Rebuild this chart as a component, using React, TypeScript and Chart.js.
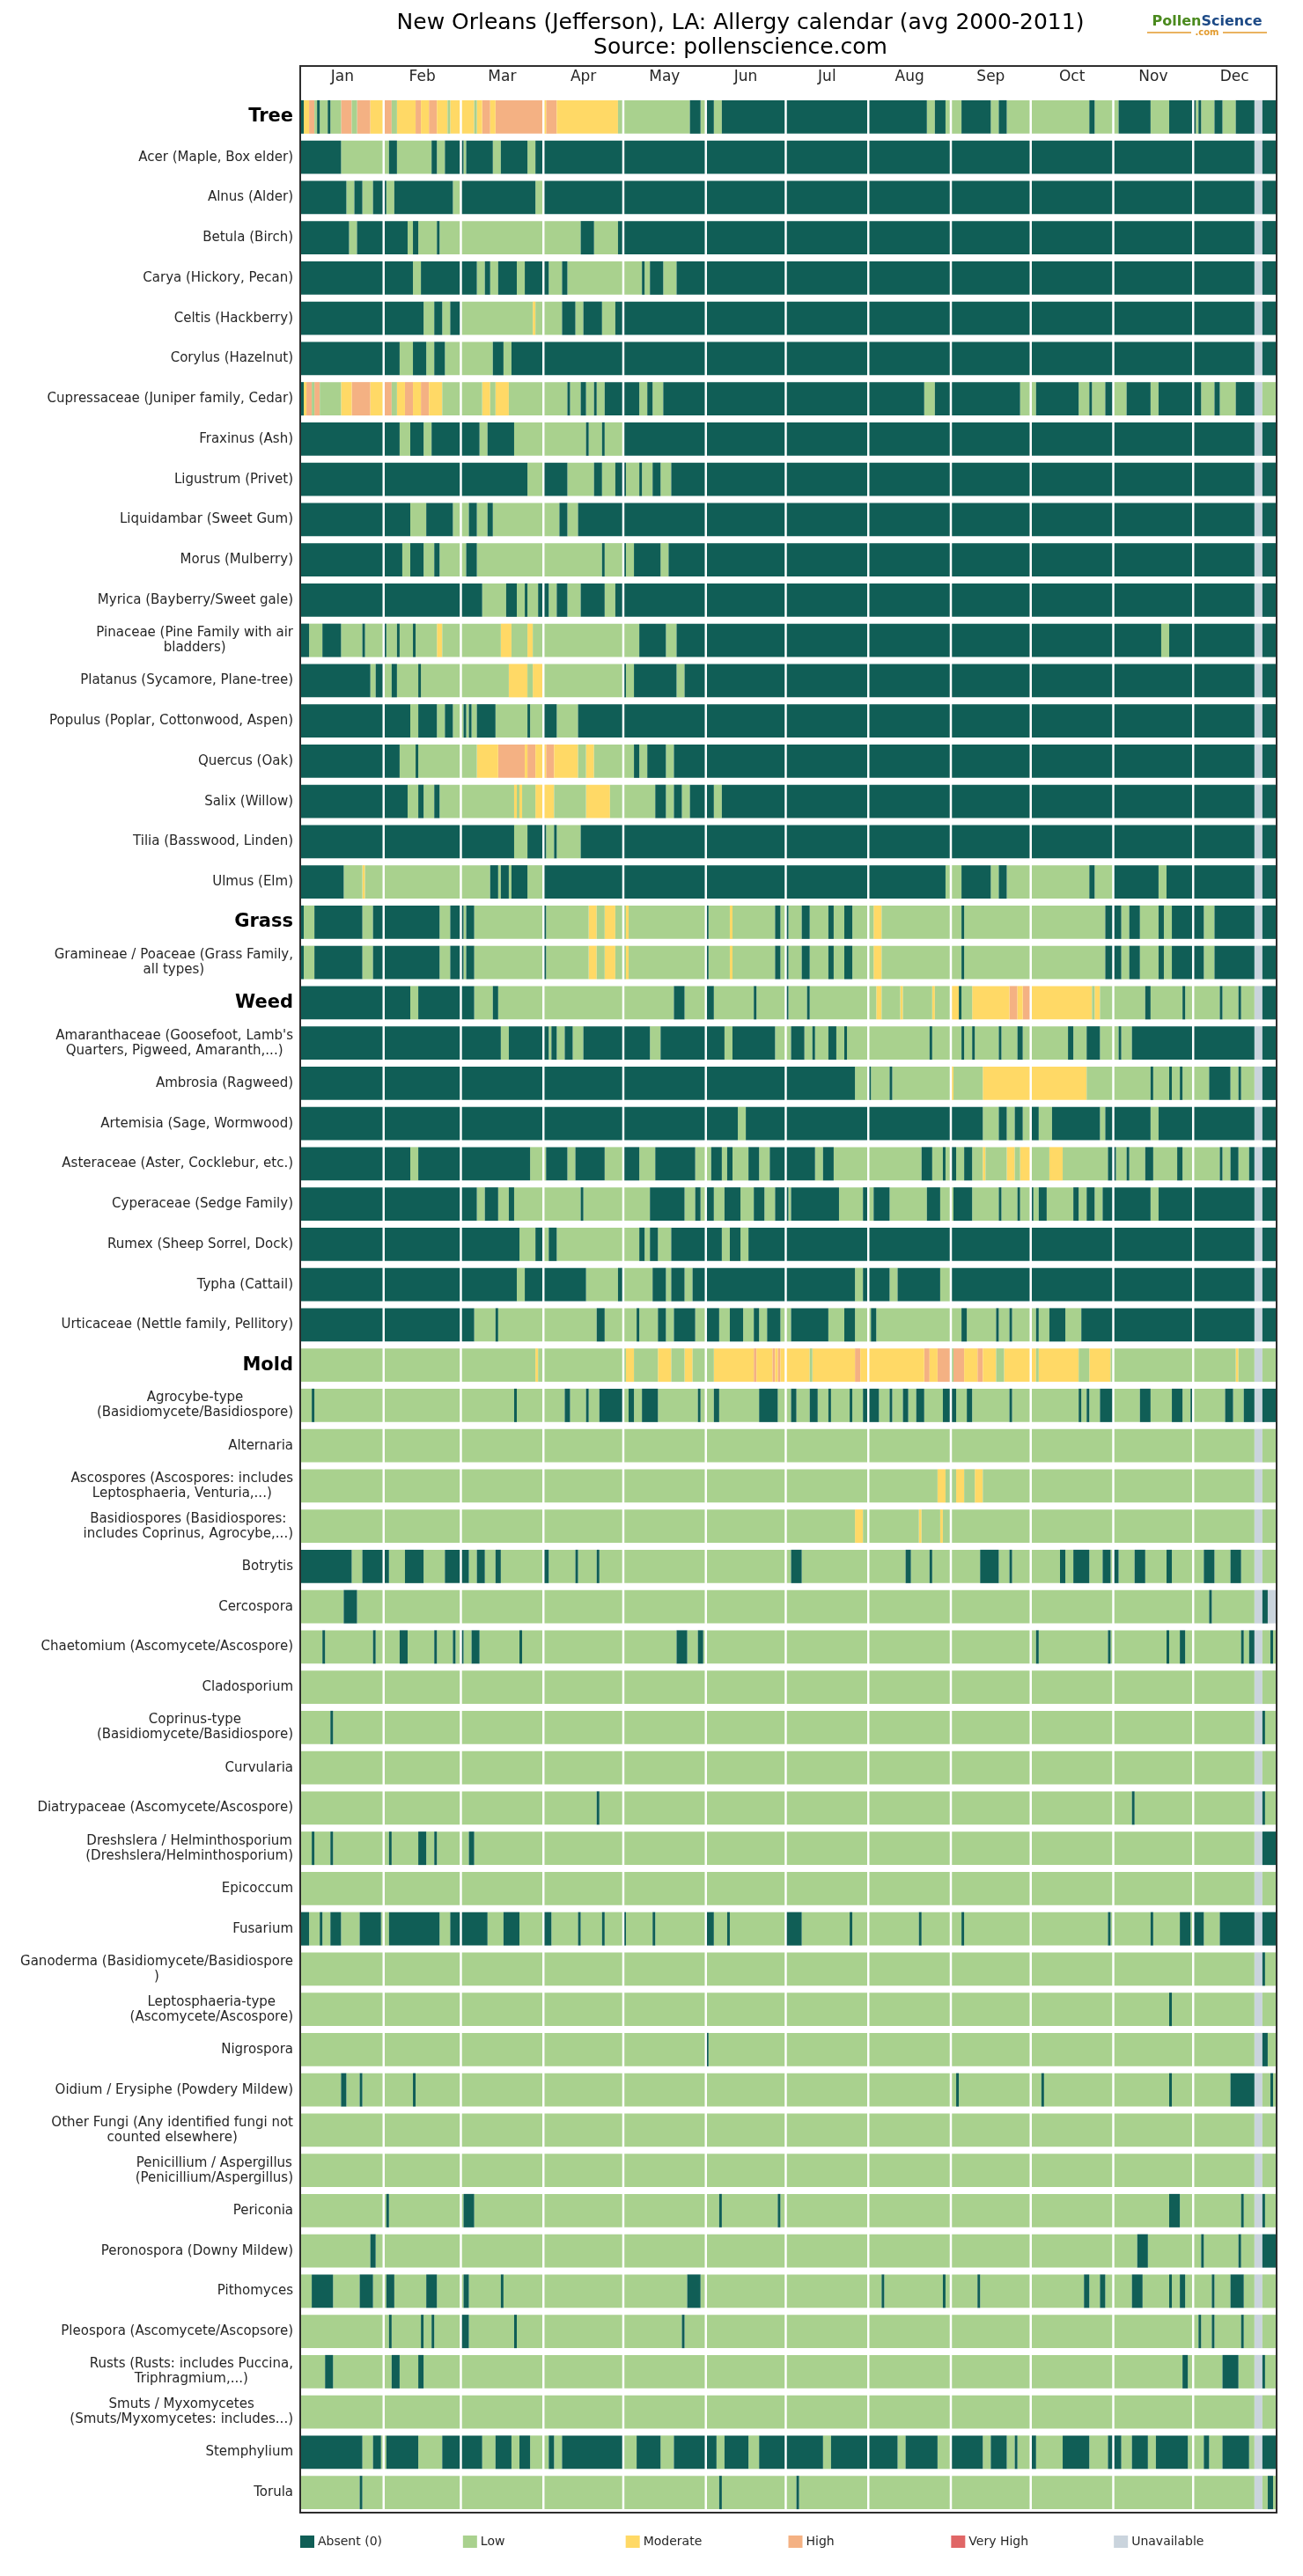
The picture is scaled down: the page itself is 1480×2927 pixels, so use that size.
import React, { useEffect, useRef } from 'react';
import { Chart, registerables } from 'chart.js';

Chart.register(...registerables);

const CANVAS_W = 1480;
const CANVAS_H = 2927;
const DAYS = 366;

const months = ['Jan', 'Feb', 'Mar', 'Apr', 'May', 'Jun', 'Jul', 'Aug', 'Sep', 'Oct', 'Nov', 'Dec'];
const monthStarts = [0, 31, 60, 91, 121, 152, 182, 213, 244, 274, 305, 335, 366];

// level codes used in the run strings: a = absent, l = low, m = moderate, h = high, v = very high, u = unavailable
const levelCodes = ['a', 'l', 'm', 'h', 'v', 'u'];
const levelNames = ['Absent (0)', 'Low', 'Moderate', 'High', 'Very High', 'Unavailable'];
const levelColors = ['#105e56', '#a9d18e', '#ffd966', '#f4b183', '#e06666', '#cad4dd'];

// Each run string lists "<level><first day of run>" (day 0 = Jan 1); a run lasts until the next one starts.
const groupHeaders = ['Tree', 'Grass', 'Weed', 'Mold'];

const treeLabels = [
  'Tree',
  'Acer (Maple, Box elder)',
  'Alnus (Alder)',
  'Betula (Birch)',
  'Carya (Hickory, Pecan)',
  'Celtis (Hackberry)',
  'Corylus (Hazelnut)',
  'Cupressaceae (Juniper family, Cedar)',
  'Fraxinus (Ash)',
  'Ligustrum (Privet)',
  'Liquidambar (Sweet Gum)',
  'Morus (Mulberry)',
  'Myrica (Bayberry/Sweet gale)',
  'Pinaceae (Pine Family with air\nbladders)',
  'Platanus (Sycamore, Plane-tree)',
  'Populus (Poplar, Cottonwood, Aspen)',
  'Quercus (Oak)',
  'Salix (Willow)',
  'Tilia (Basswood, Linden)',
  'Ulmus (Elm)',
];
const treeRuns = [
  'a0 m1 h3 l5 a6 l7 a10 l11 h15 l19 h21 m26 h31 l34 m36 h43 m45 h48 m51 l55 m56 l65 m66 h68 m71 h73 m91 h92 m96 l119 a146 l150 a152 l155 a158 l235 a238 l242 a248 l259 a262 l265 a296 l298 a307 l319 a326 l336 a337 l338 a343 l346 a351 u358 a361',
  'a0 l15 a33 l36 a49 l51 a54 l61 a62 l72 a75 l85 a88 u358 a361',
  'a0 l17 a20 l23 a27 l32 a35 l57 a60 l88 a91 u358 a361',
  'a0 l18 a21 l40 a42 l44 a51 l52 a105 l110 a119 u358 a361',
  'a0 l42 a45 l66 a69 l71 a74 l81 a84 l93 a98 l100 a128 l129 a131 l136 a141 u358 a361',
  'a0 l46 a50 l53 a56 l60 m87 l88 a98 l103 a106 l113 a118 u358 a361',
  'a0 l37 a42 l47 a50 l54 a72 l76 a79 u358 a361',
  'a0 m1 h2 l4 h5 l7 m15 h19 m26 h31 l34 m36 h39 m42 h45 m48 l53 m68 l71 m73 l78 a100 l101 a105 l107 a110 l111 a114 l127 a130 l132 a136 l234 a238 l270 a276 l292 a296 l297 a302 l305 a310 l319 a322 l338 a343 l345 a351 u358 l361',
  'a0 l37 a41 l46 a49 l67 a70 l80 a107 l108 a113 l114 a121 u358 a361',
  'a0 l85 a91 l100 a110 l113 a118 l122 a127 l128 a132 l135 a139 u358 a361',
  'a0 l41 a47 l57 a63 l66 a70 l72 a97 l100 a104 u358 a361',
  'a0 l38 a41 l46 a50 l52 a62 l66 a113 l114 a121 l122 a125 l135 a138 u358 a361',
  'a0 l68 a77 l81 a84 l85 a89 l93 a96 l100 a105 l114 a118 u358 a361',
  'a0 l3 a8 l15 a23 l24 a31 l32 a36 l37 a42 l43 m51 l53 m75 l79 m85 l87 a127 l137 a141 l323 a326 u358 a361',
  'a0 l26 a28 l31 a34 l36 a44 l45 m78 l85 m87 l91 a121 l122 a125 l141 a144 u358 a361',
  'a0 l41 a44 l51 a54 l57 a61 l62 a63 l64 a66 l73 a85 l86 a91 l96 a104 u358 a361',
  'a0 l37 a43 l44 m66 h74 m84 h85 m88 h92 m95 l104 m107 l110 a125 l127 a130 l137 a140 u358 a361',
  'a0 l40 a44 l46 a50 l52 m80 l81 m82 l83 m88 l95 m107 l116 a133 l137 a140 l143 a146 l155 a158 u358 a361',
  'a0 l80 a85 l92 a95 l96 a105 u358 a361',
  'a0 l16 m23 l24 a71 l74 a75 l78 a79 l85 a91 l242 a248 l259 a262 l265 a296 l298 a305 l322 a325 u358 a361',
];

const grassLabels = ['Grass', 'Gramineae / Poaceae (Grass Family,\nall types)'];
const grassRuns = [
  'a0 l1 a5 l23 a27 l52 a56 l61 a62 l65 a91 l92 m108 l111 m114 l118 m122 l123 a152 l153 m161 l162 a178 l180 a182 l183 a188 l191 a198 l200 a204 l207 m215 l218 a248 l249 a302 l308 a311 l315 a322 l324 a327 l339 a343 u358 a361',
  'a0 l1 a5 l23 a27 l52 a56 l61 a62 l65 a91 l92 m108 l111 m114 l118 m122 l123 a152 l153 m161 l162 a178 l180 a182 l183 a188 l191 a198 l200 a204 l207 m215 l218 a248 l249 a302 l308 a311 l315 a322 l324 a327 l339 a343 u358 a361',
];

const weedLabels = [
  'Weed',
  "Amaranthaceae (Goosefoot, Lamb's\nQuarters, Pigweed, Amaranth,...)",
  'Ambrosia (Ragweed)',
  'Artemisia (Sage, Wormwood)',
  'Asteraceae (Aster, Cocklebur, etc.)',
  'Cyperaceae (Sedge Family)',
  'Rumex (Sheep Sorrel, Dock)',
  'Typha (Cattail)',
  'Urticaceae (Nettle family, Pellitory)',
];
const weedRuns = [
  'a0 l41 a44 l65 a72 l74 a140 l144 a152 l155 a170 l171 a182 l183 a190 l191 m216 l218 m225 l226 m237 l238 m244 a247 l248 m252 h266 m269 h271 m274 l297 m298 l300 a317 l319 a331 l332 a345 l346 a352 l353 u358 a361',
  'a0 l75 a78 l93 a94 l96 a99 l102 a106 l131 a135 l159 a162 l178 a184 l189 a192 l193 a198 l201 a204 l205 a236 l237 a248 l249 a252 l253 a262 l263 a269 l271 a288 l290 a295 l300 a307 l308 a312 u358 a361',
  'a0 l208 a213 l214 a221 l222 m244 l245 m256 l295 a319 l320 a326 l327 a330 l331 a341 l349 a352 l353 u358 a361',
  'a0 l164 a167 l256 a262 l265 a268 l271 a274 l277 a282 l300 a302 l319 a322 u358 a361',
  'a0 l41 a44 l86 a92 l100 a103 l114 a121 l127 a133 l148 a154 l158 a160 l162 a168 l172 a176 l193 a196 l200 a233 l237 a241 l242 a244 l246 a249 l252 m256 l257 m265 l268 m270 l274 m281 l286 a303 l306 a310 l311 a317 l320 a329 l331 a345 l346 a349 l352 a356 u358 a361',
  'a0 l66 a69 l74 a78 l80 a105 l106 a131 l144 a148 l150 a152 l155 a159 l165 a170 l174 a178 l183 a184 l202 a211 l213 a215 l221 a235 l240 a245 l252 a262 l263 a269 l270 a274 l275 a277 l280 a290 l292 a295 l298 a301 l319 a322 u358 a361',
  'a0 l82 a88 l91 a93 l96 a127 l129 a131 l134 a139 l158 a161 l165 a168 u358 a361',
  'a0 l81 a84 l107 a119 l121 a132 l137 a139 l144 a147 l208 a211 l221 a224 l240 a244 u358 a361',
  'a0 l65 a73 l74 a111 l114 a126 l127 a134 l137 a140 l148 a152 l157 a161 l166 a170 l172 a175 l180 a184 l198 a204 l208 a214 l216 a248 l250 a261 l262 a266 l267 a276 l277 a281 l287 a293 u358 a361',
];

const moldLabels = [
  'Mold',
  'Agrocybe-type\n(Basidiomycete/Basidiospore)',
  'Alternaria',
  'Ascospores (Ascospores: includes\nLeptosphaeria, Venturia,...)',
  'Basidiospores (Basidiospores:\nincludes Coprinus, Agrocybe,...)',
  'Botrytis',
  'Cercospora',
  'Chaetomium (Ascomycete/Ascospore)',
  'Cladosporium',
  'Coprinus-type\n(Basidiomycete/Basidiospore)',
  'Curvularia',
  'Diatrypaceae (Ascomycete/Ascospore)',
  'Dreshslera / Helminthosporium\n(Dreshslera/Helminthosporium)',
  'Epicoccum',
  'Fusarium',
  'Ganoderma (Basidiomycete/Basidiospore\n)',
  'Leptosphaeria-type\n(Ascomycete/Ascospore)',
  'Nigrospora',
  'Oidium / Erysiphe (Powdery Mildew)',
  'Other Fungi (Any identified fungi not\ncounted elsewhere)',
  'Penicillium / Aspergillus\n(Penicillium/Aspergillus)',
  'Periconia',
  'Peronospora (Downy Mildew)',
  'Pithomyces',
  'Pleospora (Ascomycete/Ascopsore)',
  'Rusts (Rusts: includes Puccina,\nTriphragmium,...)',
  'Smuts / Myxomycetes\n(Smuts/Myxomycetes: includes...)',
  'Stemphylium',
  'Torula',
];
const moldRuns = [
  'l0 m88 l89 m122 l125 m134 l139 m144 l147 m155 h170 m171 h177 m178 h179 m180 l191 m192 h208 m210 h234 m236 h239 l244 h245 m249 h254 m256 l261 m264 l276 m277 l292 m296 l304 m351 l352 u358 l361',
  'l0 a4 l5 a80 l81 a99 l101 a107 l108 a112 l121 a123 l125 a128 l134 a149 l150 a155 l157 a172 l179 a184 l186 a191 l194 a198 l199 a206 l207 a211 l217 a221 l222 a226 l228 a231 l234 a241 l246 a250 l252 a266 l267 a292 l293 a295 l296 a300 l305 a315 l319 a327 l331 a334 l335 a347 l350 a354 u358 a361',
  'l0 u358 l361',
  'l0 m239 l242 m246 l249 m253 l256 u358 l361',
  'l0 m208 l211 m232 l233 m240 l241 u358 l361',
  'a0 l19 a23 l33 a39 l46 a54 l63 a66 l69 a73 l75 a91 l93 a103 l104 a111 l112 a184 l188 a227 l229 a236 l237 a255 l262 a266 l267 a285 l287 a290 l296 a301 l304 a305 l307 a313 l317 a325 l327 a339 l343 a349 l353 u358 l361',
  'l0 a16 l21 a341 l342 u358 a361 u363',
  'l0 a8 l9 a27 l28 a37 l40 a50 l51 a57 l58 a60 l61 a64 l67 a82 l83 a141 l145 a149 l151 a276 l277 a303 l304 a325 l326 a330 l332 a353 l354 a356 u358 l361 a364 l365',
  'l0 u358 l361',
  'l0 a11 l12 u358 a361 l362',
  'l0 u358 l361',
  'l0 a111 l112 a312 l313 u358 a361 l362',
  'l0 a4 l5 a11 l12 a33 l34 a44 l47 a50 l51 a63 l65 u358 a361',
  'l0 u358 l361',
  'a0 l3 a7 l8 a11 l15 a22 l30 a33 l52 a56 l70 a76 l82 a91 l94 a104 l105 a113 l114 a121 l122 a132 l133 a152 l155 a160 l161 a182 l188 a206 l207 a232 l233 a248 l249 a303 l304 a319 l320 a330 l334 a335 l339 a345 u358 a361',
  'l0 u358 a361 l362',
  'l0 a326 l327 u358 l361',
  'l0 a152 l153 u358 a361 l363',
  'l0 a15 l17 a22 l23 a42 l43 a246 l247 a278 l279 a326 l327 a349 u358 l361 a364 l365',
  'l0 u358 l361',
  'l0 u358 l361',
  'l0 a32 l33 a61 l65 a157 l158 a179 l180 a326 l330 a353 l354 u358 a361 l362',
  'l0 a26 l28 a314 l318 a338 l339 a352 l353 u358 a361',
  'l0 a4 l12 a22 l27 a32 l35 a47 l51 a61 l63 a75 l76 a145 l150 a218 l219 a241 l242 a254 l255 a294 l296 a300 l302 a312 l316 a326 l327 a330 l332 a342 l343 a349 l354 u358 l361',
  'l0 a33 l34 a45 l46 a49 l50 a60 l63 a80 l81 a143 l144 a337 l338 a342 l343 a353 l354 u358 l361',
  'l0 a9 l12 a34 l37 a44 l46 a331 l333 a346 l352 u358 a361 l362',
  'l0 u358 l361',
  'a0 l23 a27 l30 a32 l44 a53 l68 a73 l79 a82 l86 a93 l95 a98 l121 a126 l135 a140 l156 a159 l168 a172 l196 a199 l224 a227 l239 a244 l256 a259 l265 a268 l269 a274 l276 a286 l296 a303 l308 a312 l318 a321 l333 a339 l341 a346 l356 u358 a361',
  'l0 a22 l23 a157 l158 a186 l187 u358 l361 a363 l365',
];

const rowLabels = [...treeLabels, ...grassLabels, ...weedLabels, ...moldLabels];
const rowRuns = [...treeRuns, ...grassRuns, ...weedRuns, ...moldRuns];
const rowKeys = rowLabels.map((l) => l.replace('\n', ' '));

type Segment = { x: [number, number]; y: string };

function buildDatasets() {
  const perLevel: Segment[][] = levelCodes.map(() => []);
  rowRuns.forEach((runs, r) => {
    const tokens = runs.trim().split(/\s+/).map((t) => ({ code: t[0], start: Number(t.slice(1)) }));
    tokens.forEach((tok, i) => {
      const end = i + 1 < tokens.length ? tokens[i + 1].start : DAYS;
      const lvl = levelCodes.indexOf(tok.code);
      if (lvl >= 0 && end > tok.start) perLevel[lvl].push({ x: [tok.start, end], y: rowKeys[r] });
    });
  });
  return levelCodes.map((code, i) => ({
    label: levelNames[i],
    data: perLevel[i],
    backgroundColor: levelColors[i],
    borderWidth: 0,
    borderSkipped: false,
    grouped: false,
    barPercentage: 0.83,
    categoryPercentage: 1,
  }));
}

const FONT = '"DejaVu Sans", "Liberation Sans", sans-serif';

const calendarDecor = {
  id: 'calendarDecor',
  beforeDraw(chart: any) {
    const { ctx, width, height } = chart;
    ctx.save();
    ctx.fillStyle = '#ffffff';
    ctx.fillRect(0, 0, width, height);
    ctx.restore();
  },
  afterDatasetsDraw(chart: any) {
    const { ctx, chartArea: ca, scales } = chart;
    const xs = scales.x;
    const ys = scales.y;
    ctx.save();

    // white month separators across all rows
    ctx.strokeStyle = '#ffffff';
    ctx.lineWidth = 2.5;
    for (let i = 1; i < 12; i++) {
      const px = xs.getPixelForValue(monthStarts[i]);
      ctx.beginPath();
      ctx.moveTo(px, ca.top);
      ctx.lineTo(px, ca.bottom);
      ctx.stroke();
    }

    // frame around month strip and plot
    const frameTop = ca.top - 35;
    ctx.strokeStyle = '#2e2e2e';
    ctx.lineWidth = 2;
    ctx.strokeRect(ca.left - 1, frameTop, ca.right - ca.left + 2, ca.bottom - frameTop);

    // month names
    ctx.fillStyle = '#262626';
    ctx.font = `17px ${FONT}`;
    ctx.textAlign = 'center';
    ctx.textBaseline = 'middle';
    months.forEach((m, i) => {
      const mid = (monthStarts[i] + monthStarts[i + 1]) / 2;
      ctx.fillText(m, xs.getPixelForValue(mid), ca.top - 22);
    });

    // row labels (right-aligned blocks, lines centred within the block)
    const right = ca.left - 9;
    rowLabels.forEach((label, i) => {
      const cy = ys.getPixelForValue(i);
      if (groupHeaders.includes(label)) {
        ctx.font = `bold 21px ${FONT}`;
        ctx.fillStyle = '#000000';
        ctx.textAlign = 'right';
        ctx.fillText(label, right, cy);
        return;
      }
      ctx.font = `15px ${FONT}`;
      ctx.fillStyle = '#262626';
      const lines = label.split('\n');
      if (lines.length === 1) {
        ctx.textAlign = 'right';
        ctx.fillText(label, right, cy);
      } else {
        const blockW = Math.max(...lines.map((l) => ctx.measureText(l).width));
        const cx = right - blockW / 2;
        ctx.textAlign = 'center';
        const lh = 17;
        lines.forEach((l, k) => {
          ctx.fillText(l, cx, cy + (k - (lines.length - 1) / 2) * lh);
        });
      }
    });

    // title
    ctx.fillStyle = '#000000';
    ctx.font = `25px ${FONT}`;
    ctx.textAlign = 'center';
    ctx.fillText('New Orleans (Jefferson), LA: Allergy calendar (avg 2000-2011)', 841, 26);
    ctx.fillText('Source: pollenscience.com', 841, 54);

    // PollenScience mark
    ctx.font = `bold 16px ${FONT}`;
    const wP = ctx.measureText('Pollen').width;
    const wS = ctx.measureText('Science').width;
    const lx = 1371 - (wP + wS) / 2;
    ctx.textAlign = 'left';
    ctx.fillStyle = '#4b8a1e';
    ctx.fillText('Pollen', lx, 25);
    ctx.fillStyle = '#1d4a86';
    ctx.fillText('Science', lx + wP, 25);
    ctx.font = `bold 10px ${FONT}`;
    ctx.fillStyle = '#e39b2d';
    ctx.textAlign = 'center';
    ctx.fillText('.com', 1371, 37);
    ctx.strokeStyle = '#e39b2d';
    ctx.lineWidth = 1.5;
    ctx.beginPath();
    ctx.moveTo(1303, 37);
    ctx.lineTo(1353, 37);
    ctx.moveTo(1389, 37);
    ctx.lineTo(1439, 37);
    ctx.stroke();

    // legend
    const step = (ca.right - ca.left + 2) / 6;
    const ly = ca.bottom + 33;
    ctx.font = `14px ${FONT}`;
    ctx.textBaseline = 'middle';
    levelNames.forEach((name, i) => {
      const bx = ca.left - 1 + i * step;
      ctx.fillStyle = levelColors[i];
      ctx.fillRect(bx, ly - 7, 16, 14);
      ctx.fillStyle = '#262626';
      ctx.textAlign = 'left';
      ctx.fillText(name, bx + 20, ly);
    });

    ctx.restore();
  },
};

export default function App() {
  const canvasRef = useRef<HTMLCanvasElement | null>(null);

  useEffect(() => {
    if (!canvasRef.current) return;
    const chart = new Chart(canvasRef.current, {
      type: 'bar',
      data: { labels: rowKeys, datasets: buildDatasets() as any },
      options: {
        indexAxis: 'y',
        responsive: false,
        animation: false,
        devicePixelRatio: 1,
        events: [],
        layout: { padding: { left: 342, right: 31, top: 110, bottom: 72 } },
        scales: {
          x: { type: 'linear', min: 0, max: DAYS, display: false },
          y: { type: 'category', display: false, offset: true },
        },
        plugins: {
          legend: { display: false },
          tooltip: { enabled: false },
          title: { display: false },
        },
      },
      plugins: [calendarDecor],
    });
    return () => chart.destroy();
  }, []);

  return (
    <div style={{ position: 'absolute', left: 0, top: 0, width: CANVAS_W, height: CANVAS_H, background: '#ffffff' }}>
      <canvas ref={canvasRef} width={CANVAS_W} height={CANVAS_H} style={{ width: CANVAS_W, height: CANVAS_H }} />
    </div>
  );
}
